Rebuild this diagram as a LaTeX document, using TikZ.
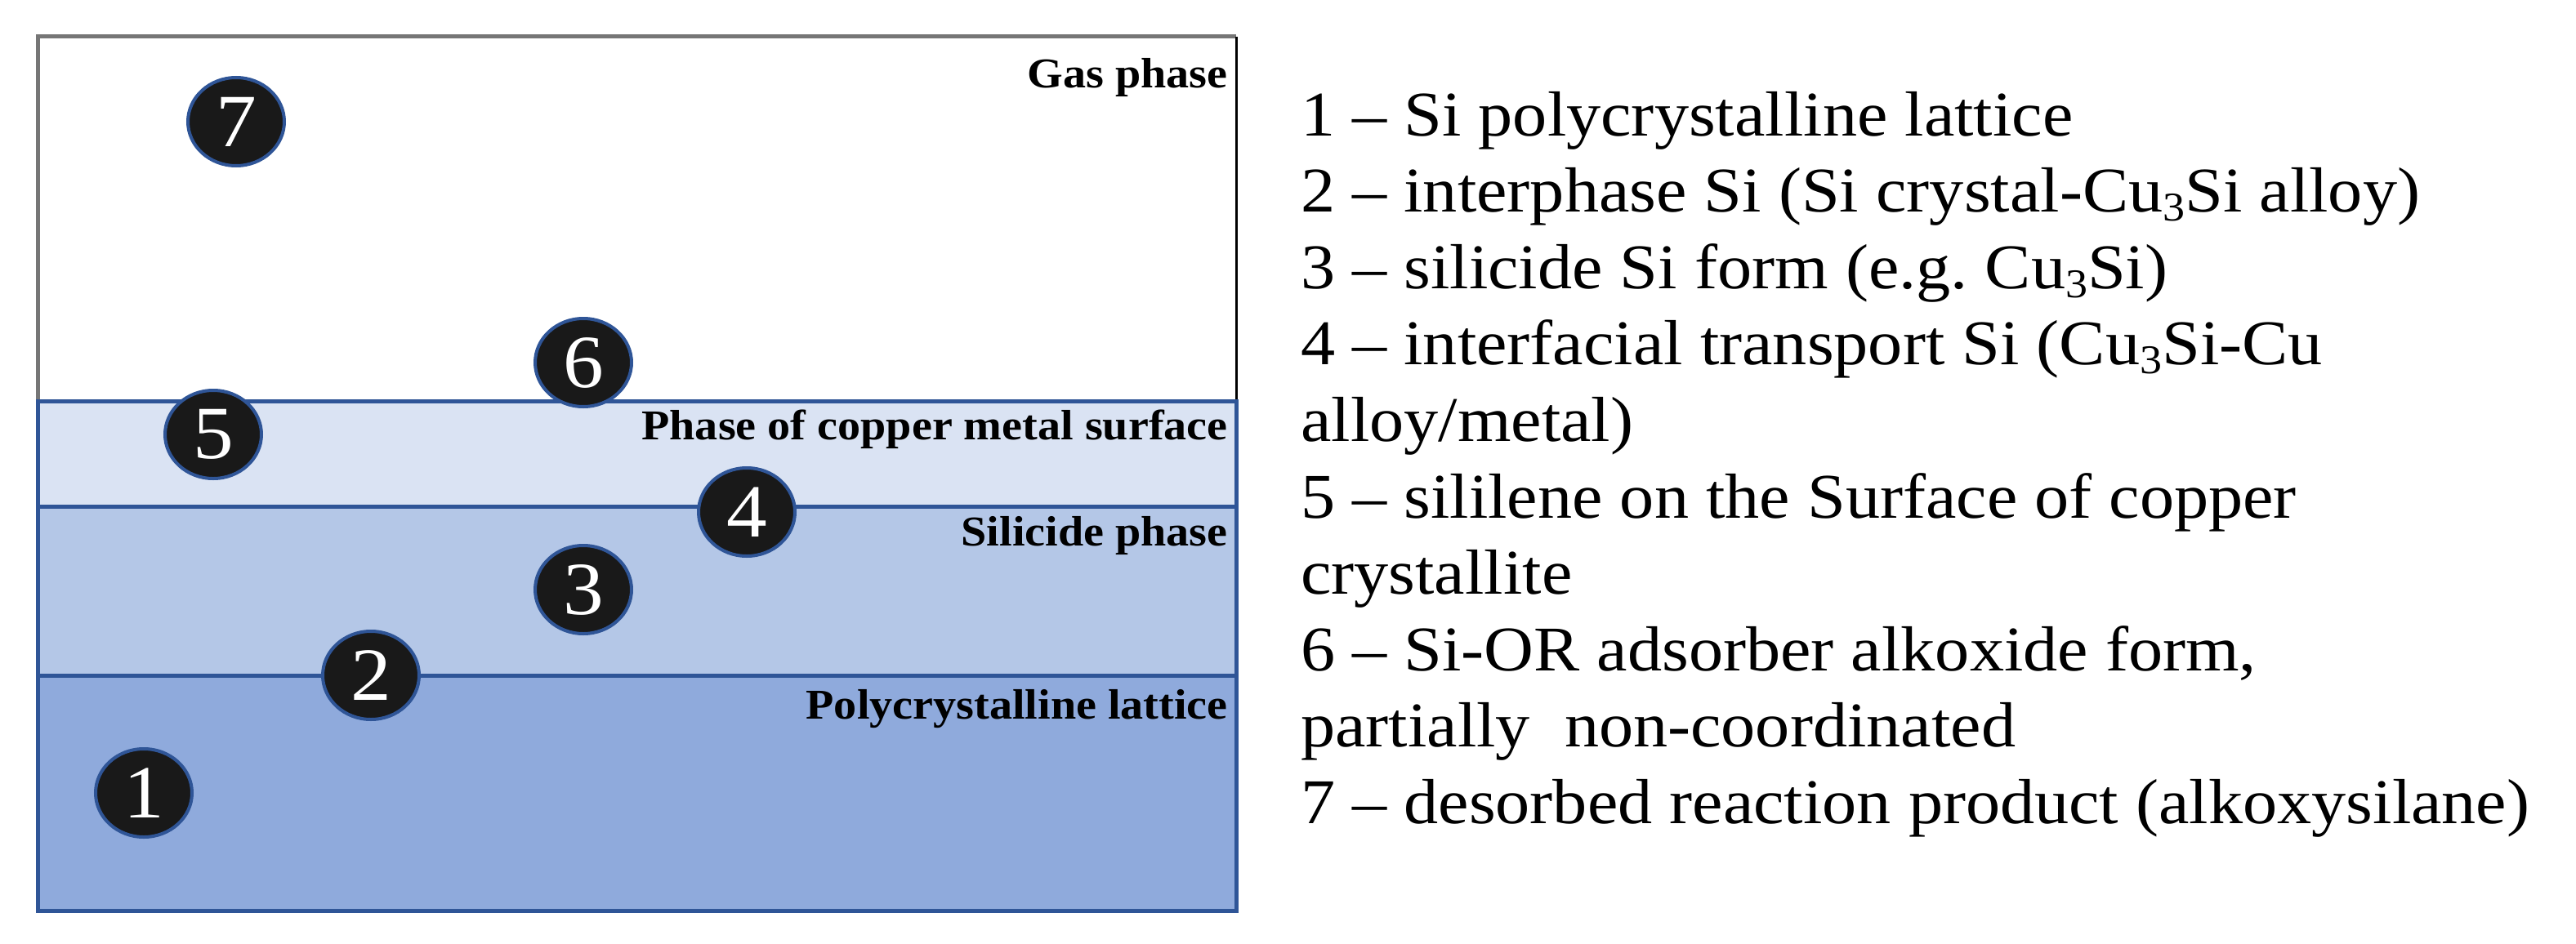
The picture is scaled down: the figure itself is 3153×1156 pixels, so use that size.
\documentclass[tikz,border=0pt]{standalone}
\usepackage{fontspec}
\setmainfont{Liberation Serif}[FakeStretch=1.08]
\usetikzlibrary{shapes.geometric}
\definecolor{cuL}{HTML}{DAE3F3}
\definecolor{siL}{HTML}{B4C7E7}
\definecolor{poL}{HTML}{8FAADC}
\definecolor{bdB}{HTML}{2F5597}
\definecolor{bdG}{HTML}{767676}
\definecolor{dotK}{HTML}{191919}
\newcommand{\mysubscr}[1]{\raisebox{-0.14em}{\fontsize{50}{50}\selectfont #1}}
\tikzset{
  marker/.style={ellipse, fill=dotK, draw=bdB, line width=4pt, minimum width=118pt, minimum height=108pt, inner sep=0pt, text=white, font=\fontsize{92}{92}\selectfont},
  phaselabel/.style={anchor=base east, inner sep=0pt, font=\fontsize{52}{60}\selectfont\bfseries},
  legendline/.style={anchor=base west, inner sep=0pt, font=\fontsize{78}{94}\selectfont},
  layerline/.style={draw=bdB, line width=5pt}
}
\begin{document}
\begin{tikzpicture}[x=1pt,y=-1pt]
\useasboundingbox (0,0) rectangle (3153,1156);
% layers
\fill[cuL] (46,491) rectangle (1513,620);
\fill[siL] (46,620) rectangle (1513,827);
\fill[poL] (46,827) rectangle (1513,1115);
% gas phase box outline
\draw[bdG, line width=5pt] (46,491) -- (46,45) -- (1513,45);
\draw[black, line width=3pt] (1513,45) -- (1513,491);
% layer borders
\draw[layerline] (46,491) rectangle (1513,1115);
\draw[layerline] (46,620) -- (1513,620);
\draw[layerline] (46,827) -- (1513,827);
% labels
\node[phaselabel] (lgas) at (1503,107) {Gas phase};
\node[phaselabel] (lcu) at (1503,538) {Phase of copper metal surface};
\node[phaselabel] (lsi) at (1503,668) {Silicide phase};
\node[phaselabel] (lpo) at (1503,880) {Polycrystalline lattice};
% markers
\node[marker] (m7) at (289,149) {7};
\node[marker] (m6) at (714,444) {6};
\node[marker] (m5) at (261,532) {5};
\node[marker] (m4) at (914,627) {4};
\node[marker] (m3) at (714,722) {3};
\node[marker] (m2) at (454,827) {2};
\node[marker] (m1) at (176,971) {1};
% legend
\node[legendline] (t1) at (1592,166) {1 -- Si polycrystalline lattice};
\node[legendline] (t2) at (1592,259.6) {2 -- interphase Si (Si crystal-Cu\mysubscr{3}Si alloy)};
\node[legendline] (t3) at (1592,353.2) {3 -- silicide Si form (e.g.\ Cu\mysubscr{3}Si)};
\node[legendline] (t4) at (1592,446.8) {4 -- interfacial transport Si (Cu\mysubscr{3}Si-Cu};
\node[legendline] (t4b) at (1592,540.4) {alloy/metal)};
\node[legendline] (t5) at (1592,634) {5 -- sililene on the Surface of copper};
\node[legendline] (t5b) at (1592,727.6) {crystallite};
\node[legendline] (t6) at (1592,821.2) {6 -- Si-OR adsorber alkoxide form,};
\node[legendline] (t6b) at (1592,914.8) {partially\ \ non-coordinated};
\node[legendline] (t7) at (1592,1008.4) {7 -- desorbed reaction product (alkoxysilane)};
\end{tikzpicture}
\end{document}
